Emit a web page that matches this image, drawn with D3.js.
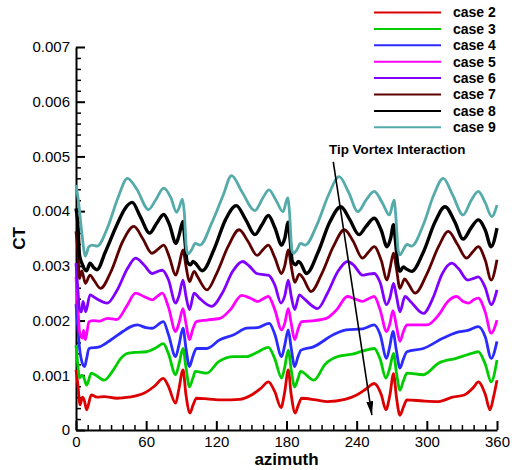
<!DOCTYPE html>
<html>
<head>
<meta charset="utf-8">
<script src="https://cdn.jsdelivr.net/npm/d3@7"></script>
<style>
  body { margin: 0; background: #fff; }
  svg { display: block; font-family: "Liberation Sans", Arial, sans-serif; }
</style>
</head>
<body>
<div id="chart"></div>
<script>
// CT values are given in units of 1e-3, azimuth in degrees
const case2 = [[0,1.1],[1.5,0.85],[3.5,0.46],[5.5,0.6],[7,0.55],[9.1,0.37],[13.1,0.64],[18,0.6],[24,0.61],[35,0.58],[45,0.6],[58,0.67],[67,0.8],[74.7,0.945],[79,0.8],[85.2,0.49],[88,0.75],[91.5,1.1],[94,0.65],[97.5,0.31],[100,0.45],[103,0.58],[112,0.57],[125,0.55],[140,0.56],[150,0.64],[158,0.76],[164.5,0.88],[170,0.7],[175.3,0.41],[178.5,0.7],[181.5,1.1],[184,0.65],[187.5,0.31],[190,0.45],[193,0.58],[205,0.55],[215,0.52],[230,0.56],[240,0.64],[248,0.75],[255,0.85],[261,0.65],[265,0.37],[268.5,0.65],[271.5,1.03],[274,0.6],[277,0.27],[280,0.42],[283,0.55],[297,0.53],[310,0.52],[322,0.6],[332,0.64],[340,0.78],[344,0.88],[350,0.65],[354,0.37],[357,0.6],[360,0.91]]
const case3 = [[0,1.55],[1.5,1.2],[3,0.95],[5,1.0],[6.5,0.97],[9.1,0.82],[13.1,1.04],[17,1.0],[24,0.91],[32,1.1],[38,1.3],[44,1.4],[52,1.42],[60,1.43],[68,1.5],[74.7,1.58],[79,1.4],[85.2,1.01],[88,1.2],[91.5,1.49],[94,1.15],[97,0.79],[100,0.95],[102,1.07],[111.8,1.04],[122,1.25],[135,1.34],[146,1.34],[155,1.42],[164.5,1.51],[170,1.3],[175.8,0.95],[178.5,1.15],[181.5,1.46],[184,1.1],[187,0.79],[190,0.95],[192,1.07],[203.4,0.91],[213,1.2],[225,1.35],[235,1.38],[245,1.44],[255,1.49],[260,1.3],[265,0.95],[268.5,1.15],[271.5,1.4],[274,1.05],[277,0.73],[280,0.9],[283,1.04],[297,1.01],[310,1.22],[325,1.31],[340,1.41],[344,1.43],[350,1.2],[355,0.88],[360,1.28]]
const case4 = [[0,2.3],[1.5,1.9],[3,1.5],[5,1.25],[7.4,1.16],[9,1.3],[11.1,1.49],[20,1.52],[30,1.65],[40,1.8],[46,1.88],[52.4,1.92],[60,1.87],[65,1.86],[74.7,1.98],[79,1.75],[85.2,1.34],[88,1.55],[91.5,1.86],[94,1.5],[97,1.16],[100,1.35],[103,1.49],[111.8,1.49],[123,1.65],[135,1.74],[146,1.86],[155,1.87],[165.3,1.95],[170,1.75],[175.8,1.34],[178.5,1.55],[181.5,1.83],[184,1.5],[187,1.16],[190,1.35],[192.5,1.46],[203,1.52],[220,1.74],[231,1.83],[245,1.85],[255,1.92],[260,1.75],[265.6,1.31],[268.5,1.55],[271,1.8],[274,1.45],[277,1.13],[280,1.3],[283,1.43],[297,1.49],[314,1.68],[325,1.78],[335,1.82],[344,1.89],[350,1.7],[355,1.31],[360,1.62]]
const case5 = [[0,2.8],[1.5,2.3],[3,1.8],[5.4,1.68],[6.5,1.82],[8,1.65],[11.1,1.98],[15,2.0],[20,1.99],[26.8,2.04],[35,2.02],[43,2.25],[51,2.5],[58,2.44],[65.3,2.38],[70,2.45],[73.8,2.5],[79,2.25],[85.2,1.8],[88,1.95],[91.5,2.22],[94,1.95],[97,1.65],[100,1.85],[103,1.98],[111.8,2.01],[123,2.04],[132,2.2],[141.7,2.46],[148,2.42],[155.8,2.35],[160,2.4],[164.5,2.44],[170,2.2],[175.8,1.83],[178.5,1.95],[181.5,2.22],[184,1.95],[187,1.65],[190,1.85],[193,1.98],[204,2.0],[214,2.04],[223,2.2],[232,2.44],[238,2.4],[245,2.35],[250,2.4],[255,2.44],[260,2.2],[265.6,1.8],[268.5,1.95],[271,2.18],[274,1.9],[277,1.62],[280,1.8],[283,1.92],[300,1.92],[310,2.1],[318,2.35],[325.5,2.44],[331,2.35],[336,2.32],[340,2.38],[344,2.41],[350,2.15],[355,1.77],[360,2.01]]
const case6 = [[0,3.05],[1.5,2.6],[3,2.2],[4.6,2.16],[6,2.35],[8.3,2.16],[12,2.47],[16,2.42],[26.8,2.32],[35,2.55],[44,2.95],[51,3.14],[58,3.02],[65.3,2.86],[70,2.9],[73.8,2.92],[79,2.75],[85.2,2.32],[88,2.45],[91.5,2.74],[94,2.45],[97,2.2],[101,2.5],[105,2.42],[116,2.26],[125,2.5],[134,2.9],[142.5,3.08],[148,3.0],[154.5,2.86],[160,2.84],[164.5,2.83],[170,2.65],[175.3,2.32],[178.5,2.45],[181.5,2.74],[184,2.45],[187,2.2],[191,2.47],[195,2.4],[206.6,2.22],[215,2.5],[224,2.9],[232.3,3.08],[238,3.0],[245,2.83],[250,2.85],[255,2.86],[260,2.7],[265.6,2.29],[268.5,2.42],[271.5,2.68],[274,2.45],[277,2.16],[281.3,2.44],[286,2.35],[297,2.13],[305,2.4],[313,2.85],[321.3,3.05],[327,2.95],[335,2.74],[340,2.77],[344,2.8],[350,2.6],[355,2.29],[360,2.56]]
const case7 = [[0,3.63],[1.5,3.3],[3,2.77],[5,2.91],[8,2.68],[12,2.83],[15,2.75],[21,2.59],[30,2.9],[40,3.45],[49.5,3.72],[57,3.5],[65,3.23],[70,3.3],[75,3.38],[80,3.15],[85.2,2.83],[88,3.0],[91.5,3.29],[94,3.0],[97,2.71],[101,2.9],[104,2.8],[112,2.56],[120,2.85],[130,3.35],[139.5,3.66],[147,3.45],[155,3.19],[160,3.3],[164.5,3.38],[170,3.15],[175.8,2.86],[178.5,3.0],[181.5,3.29],[184,3.0],[187,2.7],[191,2.85],[194,2.78],[201,2.53],[210,2.85],[220,3.35],[229.5,3.66],[237,3.45],[245,3.14],[250,3.25],[255,3.35],[261,3.1],[266,2.74],[268.5,2.95],[271.5,3.23],[274,2.95],[277,2.59],[281,2.76],[284,2.68],[290,2.5],[300,2.85],[310,3.35],[318.4,3.63],[326,3.4],[334,3.14],[339,3.25],[344,3.35],[350,3.1],[355,2.74],[360,3.11]]
const case8 = [[0,4.05],[1.5,3.8],[3,3.2],[5,3.05],[7,2.95],[9,2.91],[12,3.05],[15,2.97],[18,2.93],[25,3.25],[35,3.75],[42,4.05],[48,4.16],[55,3.9],[63,3.6],[69,3.78],[75,3.94],[80,3.75],[85.5,3.41],[88,3.55],[91.5,3.81],[93,3.5],[95,3.08],[98,3.02],[100,3.08],[102,3.05],[108,2.91],[118,3.3],[128,3.85],[137,4.1],[145,3.85],[153,3.57],[159,3.75],[164.5,3.92],[170,3.7],[176,3.38],[178.5,3.5],[181.5,3.8],[183,3.5],[185,3.08],[188,3.02],[190,3.08],[192,3.05],[197,2.86],[207,3.25],[217,3.8],[226.5,4.08],[234,3.85],[242,3.57],[248,3.72],[255,3.87],[261,3.65],[266,3.35],[269,3.5],[271.5,3.75],[273,3.5],[275,3.05],[277,2.9],[280,2.98],[282,2.95],[287,2.9],[297,3.25],[307,3.8],[315.5,4.08],[324,3.8],[331,3.49],[338,3.7],[344,3.84],[350,3.65],[355,3.35],[360,3.69]]
const case9 = [[0,4.48],[2,4.2],[5,3.6],[8,3.18],[11,3.35],[14,3.38],[18,3.36],[27,3.7],[36,4.25],[44,4.6],[52,4.4],[62,4.03],[68,4.2],[75,4.42],[81,4.25],[86,3.98],[88,4.05],[91,4.22],[92.5,4.0],[94.5,3.3],[96,3.22],[99,3.3],[102,3.41],[106,3.38],[116,3.78],[126,4.3],[133,4.65],[142,4.35],[153,4.01],[160,4.25],[165,4.39],[171,4.2],[177,3.99],[181,4.24],[182.5,4.0],[184.5,3.3],[186,3.23],[189,3.3],[192,3.41],[196,3.38],[206,3.75],[216,4.3],[225,4.63],[233,4.35],[241,3.99],[248,4.2],[255,4.36],[262,4.15],[268,3.93],[272,4.2],[273.5,3.9],[275.5,3.28],[277,3.2],[280,3.3],[283,3.39],[287,3.36],[297,3.75],[306,4.3],[314,4.6],[322,4.3],[331,3.93],[338,4.2],[344,4.36],[350,4.15],[355.5,3.9],[360,4.11]]

const caseNames = ['case 2', 'case 3', 'case 4', 'case 5', 'case 6', 'case 7', 'case 8', 'case 9']
const caseData = [case2, case3, case4, case5, case6, case7, case8, case9]
const caseColor = ['#dd0000', '#00cc00', '#2b2bff', '#ff00ff', '#8000ff', '#5c0000', '#000000', '#55aaaa']
const caseWidth = [2.8, 2.8, 2.8, 2.8, 2.8, 2.8, 3.4, 2.8]

const xTicks = [0, 60, 120, 180, 240, 300, 360]
const yTicks = [0, 0.001, 0.002, 0.003, 0.004, 0.005, 0.006, 0.007]
const annotation = 'Tip Vortex Interaction'
const arrowFrom = [220, 0.0049]
const arrowTo = [253, 0.00027]

const width = 512
const height = 470
const margin = {top: 47, left: 76, right: 15, bottom: 40}

const svg = d3.select('#chart').append('svg')
  .attr('width', width)
  .attr('height', height)

const xScale = d3.scaleLinear().domain([0, 360]).range([margin.left, width - margin.right])
const yScale = d3.scaleLinear().domain([0, 0.007]).range([height - margin.bottom, margin.top])

// minor ticks
const xMinor = d3.range(0, 361, 10).filter(v => v % 60 !== 0)
const yMinor = d3.range(0, 36).map(i => i * 0.0002).filter((v, i) => i % 5 !== 0)

svg.append('g')
  .attr('transform', `translate(0,${yScale(0)})`)
  .call(d3.axisBottom(xScale).tickValues(xMinor).tickSize(-5).tickFormat(''))
  .call(g => g.select('.domain').remove())
  .selectAll('line').attr('stroke-width', 1.5)
svg.append('g')
  .attr('transform', `translate(${xScale(0)},0)`)
  .call(d3.axisLeft(yScale).tickValues(yMinor).tickSize(-5).tickFormat(''))
  .call(g => g.select('.domain').remove())
  .selectAll('line').attr('stroke-width', 1.5)

// major axes
const xAxis = svg.append('g')
  .attr('transform', `translate(0,${yScale(0)})`)
  .call(d3.axisBottom(xScale).tickValues(xTicks).tickSize(-9).tickSizeOuter(0).tickPadding(6).tickFormat(d3.format('d')))
xAxis.select('.domain').attr('stroke-width', 2)
xAxis.selectAll('line').attr('stroke-width', 2)
xAxis.selectAll('text').style('font-size', '15px').attr('fill', '#000')

const yAxis = svg.append('g')
  .attr('transform', `translate(${xScale(0)},0)`)
  .call(d3.axisLeft(yScale).tickValues(yTicks).tickSize(-9).tickSizeOuter(0).tickPadding(6).tickFormat(d => d === 0 ? '0' : d3.format('.3f')(d)))
yAxis.select('.domain').attr('stroke-width', 2)
yAxis.selectAll('line').attr('stroke-width', 2)
yAxis.selectAll('text').style('font-size', '15px').attr('fill', '#000')

// axis titles
svg.append('text')
  .attr('x', (xScale(0) + xScale(360)) / 2)
  .attr('y', 465)
  .attr('text-anchor', 'middle')
  .style('font-size', '17px')
  .style('font-weight', 'bold')
  .text('azimuth')
svg.append('text')
  .attr('transform', `translate(25,${(yScale(0) + yScale(0.007)) / 2}) rotate(-90)`)
  .attr('text-anchor', 'middle')
  .style('font-size', '17px')
  .style('font-weight', 'bold')
  .text('CT')

// series
const line = d3.line()
  .curve(d3.curveMonotoneX)
  .x(d => xScale(d[0]))
  .y(d => yScale(d[1] * 1e-3))

svg.append('g').selectAll('path')
  .data(caseData)
  .enter()
  .append('path')
  .attr('d', line)
  .attr('fill', 'none')
  .attr('stroke', (d, i) => caseColor[i])
  .attr('stroke-width', (d, i) => caseWidth[i])
  .attr('stroke-linejoin', 'round')

// annotation
svg.append('defs').append('marker')
  .attr('id', 'arrowHead')
  .attr('viewBox', '0 0 14 7')
  .attr('refX', 14)
  .attr('refY', 3.5)
  .attr('markerWidth', 14)
  .attr('markerHeight', 7)
  .attr('markerUnits', 'userSpaceOnUse')
  .attr('orient', 'auto')
  .append('path')
  .attr('d', 'M0,0 L14,3.5 L0,7 Z')
  .attr('fill', '#000')

svg.append('line')
  .attr('x1', xScale(arrowFrom[0]))
  .attr('y1', yScale(arrowFrom[1]))
  .attr('x2', xScale(arrowTo[0]))
  .attr('y2', yScale(arrowTo[1]))
  .attr('stroke', '#000')
  .attr('stroke-width', 1.6)
  .attr('marker-end', 'url(#arrowHead)')

svg.append('text')
  .attr('x', 329)
  .attr('y', 154)
  .style('font-size', '13.4px')
  .style('font-weight', 'bold')
  .text(annotation)

// legend
const legend = svg.append('g').selectAll('g')
  .data(caseNames)
  .enter()
  .append('g')
  .attr('transform', (d, i) => `translate(374,${12.5 + i * 16.4})`)
legend.append('line')
  .attr('x1', 0)
  .attr('x2', 67)
  .attr('stroke', (d, i) => caseColor[i])
  .attr('stroke-width', 2)
legend.append('text')
  .attr('x', 79)
  .attr('dy', '0.35em')
  .style('font-size', '14px')
  .style('font-weight', 'bold')
  .text(d => d)
</script>
</body>
</html>
